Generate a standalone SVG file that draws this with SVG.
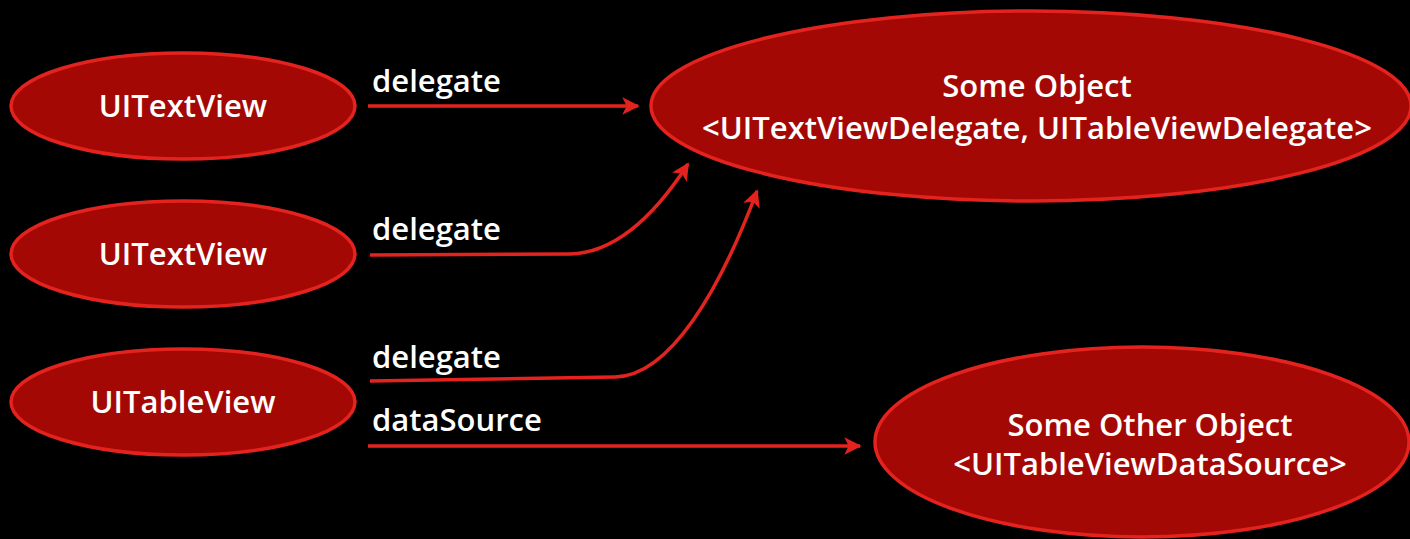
<svg xmlns="http://www.w3.org/2000/svg" width="1410" height="539" viewBox="0 0 1410 539">
<style>
.node{fill:#a40804;stroke:#e4231f;stroke-width:3.5}
.nt{fill:#fff;font-family:"Open Sans","Liberation Sans",sans-serif;font-weight:600;font-size:31px;text-anchor:middle}
.lbl{fill:#fff;font-family:"Open Sans","Liberation Sans",sans-serif;font-weight:600;font-size:31px}
.edge{fill:none;stroke:#e4231f;stroke-width:3.5;marker-end:url(#ah)}
</style>
<defs>
<marker id="ah" viewBox="0 0 10 10" refX="9" refY="5" markerWidth="5" markerHeight="5" orient="auto" markerUnits="strokeWidth">
<path d="M0,0 L10,5 L0,10 L2.5,5 Z" fill="#e4231f"/>
</marker>
</defs>
<rect width="1410" height="539" fill="#000"/>
<g id="edges">
<path class="edge" d="M368,106 L638,106"/>
<path class="edge" d="M370,255 L570,254 C615,253 655,215 688,164"/>
<path class="edge" d="M370,381 L615,377 C670,376 720,290 757,191"/>
<path class="edge" d="M368,446 L860,446"/>
<text class="lbl" x="372" y="92">delegate</text>
<text class="lbl" x="372" y="240">delegate</text>
<text class="lbl" x="372" y="368">delegate</text>
<text class="lbl" x="372" y="431">dataSource</text>
</g>
<g id="n1"><ellipse class="node" cx="183" cy="106" rx="172" ry="53"/><text class="nt" x="183" y="117">UITextView</text></g>
<g id="n2"><ellipse class="node" cx="183" cy="254" rx="172" ry="53"/><text class="nt" x="183" y="265">UITextView</text></g>
<g id="n3"><ellipse class="node" cx="183" cy="402" rx="172" ry="53"/><text class="nt" x="183" y="413">UITableView</text></g>
<g id="n4"><ellipse class="node" cx="1031" cy="106" rx="380" ry="95"/><text class="nt" x="1037" y="97">Some Object</text><text class="nt" x="1037" y="139">&lt;UITextViewDelegate, UITableViewDelegate&gt;</text></g>
<g id="n5"><ellipse class="node" cx="1142" cy="442" rx="267" ry="95"/><text class="nt" x="1150" y="436">Some Other Object</text><text class="nt" x="1150" y="475">&lt;UITableViewDataSource&gt;</text></g>
</svg>
